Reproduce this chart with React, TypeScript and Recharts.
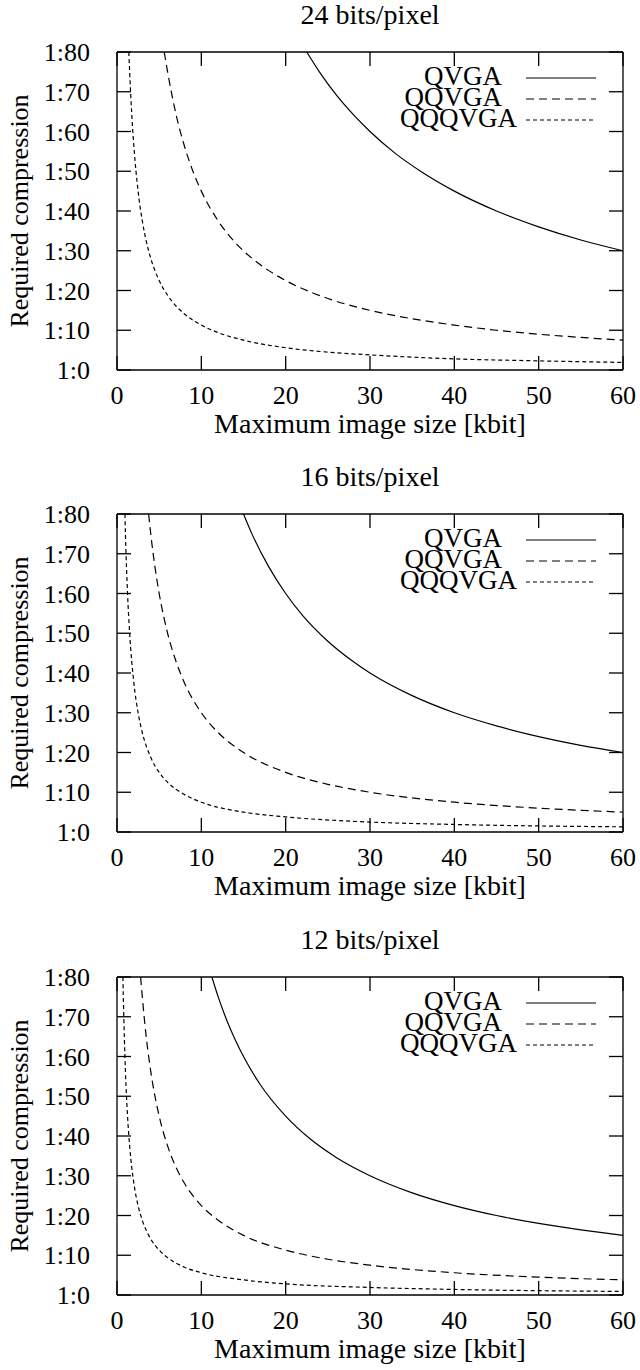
import { LineChart, Line, XAxis, YAxis, Legend } from 'recharts'

// values (compression ratio vs. max image size in kbit)
const xTicks = [0, 10, 20, 30, 40, 50, 60]
const yTicks = [0, 10, 20, 30, 40, 50, 60, 70, 80]
const seriesNames = ['QVGA', 'QQVGA', 'QQQVGA']
const panelTitles = ['24 bits/pixel', '16 bits/pixel', '12 bits/pixel']

const qvga24 = [
  { x: 22.5, y: 80 }, { x: 24, y: 75 }, { x: 26, y: 69.2 }, { x: 28, y: 64.3 }, { x: 30, y: 60 },
  { x: 33, y: 54.5 }, { x: 36, y: 50 }, { x: 40, y: 45 }, { x: 45, y: 40 }, { x: 50, y: 36 },
  { x: 55, y: 32.7 }, { x: 60, y: 30 },
]
const qqvga24 = [
  { x: 5.6, y: 80 }, { x: 6, y: 75 }, { x: 7, y: 64.3 }, { x: 8, y: 56.3 }, { x: 9, y: 50 },
  { x: 10, y: 45 }, { x: 12, y: 37.5 }, { x: 14, y: 32.1 }, { x: 16, y: 28.1 }, { x: 18, y: 25 },
  { x: 20, y: 22.5 }, { x: 25, y: 18 }, { x: 30, y: 15 }, { x: 35, y: 12.9 }, { x: 40, y: 11.3 },
  { x: 45, y: 10 }, { x: 50, y: 9 }, { x: 55, y: 8.2 }, { x: 60, y: 7.5 },
]
const qqqvga24 = [
  { x: 1.4, y: 80 }, { x: 1.5, y: 75 }, { x: 1.75, y: 64.3 }, { x: 2, y: 56.3 }, { x: 2.5, y: 45 },
  { x: 3, y: 37.5 }, { x: 3.5, y: 32.1 }, { x: 4, y: 28.1 }, { x: 5, y: 22.5 }, { x: 6, y: 18.8 },
  { x: 7, y: 16.1 }, { x: 8, y: 14.1 }, { x: 10, y: 11.3 }, { x: 12, y: 9.4 }, { x: 15, y: 7.5 },
  { x: 20, y: 5.6 }, { x: 25, y: 4.5 }, { x: 30, y: 3.8 }, { x: 40, y: 2.8 }, { x: 50, y: 2.3 },
  { x: 60, y: 1.9 },
]

const qvga16 = [
  { x: 15, y: 80 }, { x: 16, y: 75 }, { x: 18, y: 66.7 }, { x: 20, y: 60 }, { x: 22, y: 54.5 },
  { x: 25, y: 48 }, { x: 28, y: 42.9 }, { x: 30, y: 40 }, { x: 35, y: 34.3 }, { x: 40, y: 30 },
  { x: 45, y: 26.7 }, { x: 50, y: 24 }, { x: 55, y: 21.8 }, { x: 60, y: 20 },
]
const qqvga16 = [
  { x: 3.75, y: 80 }, { x: 4, y: 75 }, { x: 4.5, y: 66.7 }, { x: 5, y: 60 }, { x: 6, y: 50 },
  { x: 7, y: 42.9 }, { x: 8, y: 37.5 }, { x: 10, y: 30 }, { x: 12, y: 25 }, { x: 15, y: 20 },
  { x: 20, y: 15 }, { x: 25, y: 12 }, { x: 30, y: 10 }, { x: 40, y: 7.5 }, { x: 50, y: 6 },
  { x: 60, y: 5 },
]
const qqqvga16 = [
  { x: 0.94, y: 80 }, { x: 1, y: 75 }, { x: 1.25, y: 60 }, { x: 1.5, y: 50 }, { x: 2, y: 37.5 },
  { x: 2.5, y: 30 }, { x: 3, y: 25 }, { x: 4, y: 18.8 }, { x: 5, y: 15 }, { x: 6, y: 12.5 },
  { x: 8, y: 9.4 }, { x: 10, y: 7.5 }, { x: 15, y: 5 }, { x: 20, y: 3.8 }, { x: 30, y: 2.5 },
  { x: 40, y: 1.9 }, { x: 60, y: 1.3 },
]

const qvga12 = [
  { x: 11.25, y: 80 }, { x: 12, y: 75 }, { x: 13, y: 69.2 }, { x: 14, y: 64.3 }, { x: 15, y: 60 },
  { x: 17, y: 52.9 }, { x: 20, y: 45 }, { x: 23, y: 39.1 }, { x: 26, y: 34.6 }, { x: 30, y: 30 },
  { x: 35, y: 25.7 }, { x: 40, y: 22.5 }, { x: 45, y: 20 }, { x: 50, y: 18 }, { x: 55, y: 16.4 },
  { x: 60, y: 15 },
]
const qqvga12 = [
  { x: 2.8, y: 80 }, { x: 3, y: 75 }, { x: 3.5, y: 64.3 }, { x: 4, y: 56.3 }, { x: 5, y: 45 },
  { x: 6, y: 37.5 }, { x: 7, y: 32.1 }, { x: 8, y: 28.1 }, { x: 10, y: 22.5 }, { x: 12, y: 18.8 },
  { x: 15, y: 15 }, { x: 20, y: 11.3 }, { x: 25, y: 9 }, { x: 30, y: 7.5 }, { x: 40, y: 5.6 },
  { x: 50, y: 4.5 }, { x: 60, y: 3.8 },
]
const qqqvga12 = [
  { x: 0.7, y: 80 }, { x: 0.75, y: 75 }, { x: 1, y: 56.3 }, { x: 1.25, y: 45 }, { x: 1.5, y: 37.5 },
  { x: 2, y: 28.1 }, { x: 2.5, y: 22.5 }, { x: 3, y: 18.8 }, { x: 4, y: 14.1 }, { x: 5, y: 11.3 },
  { x: 6, y: 9.4 }, { x: 8, y: 7 }, { x: 10, y: 5.6 }, { x: 15, y: 3.8 }, { x: 20, y: 2.8 },
  { x: 30, y: 1.9 }, { x: 40, y: 1.4 }, { x: 60, y: 0.9 },
]

const panels = [
  { title: panelTitles[0], series: [qvga24, qqvga24, qqqvga24], top: 0 },
  { title: panelTitles[1], series: [qvga16, qqvga16, qqqvga16], top: 462 },
  { title: panelTitles[2], series: [qvga12, qqvga12, qqqvga12], top: 925 },
]

const FONT = '"Liberation Serif", "DejaVu Serif", serif'
const INK = '#000'
const dashes = ['', '8 5', '4 3']
const tickText = { fontSize: 26, fontFamily: FONT, fill: INK }
const hiddenText = { fontSize: 1, fill: 'none' }
const tickStroke = { stroke: INK, strokeWidth: 1.3 }
const axisStroke = { stroke: INK, strokeWidth: 1.3 }
const blank = () => ''

function YLabel({ viewBox }: any) {
  const cx = viewBox.x + 28
  const cy = viewBox.y + viewBox.height / 2
  return (
    <text
      x={cx}
      y={cy}
      transform={`rotate(-90 ${cx} ${cy})`}
      textAnchor="middle"
      fontSize={26}
      fontFamily={FONT}
      fill={INK}
    >
      Required compression
    </text>
  )
}

function KeyBox() {
  return (
    <div style={{ fontFamily: FONT, fontSize: 27, lineHeight: '21px', color: INK }}>
      {seriesNames.map((name, i) => (
        <div key={name} style={{ display: 'flex', alignItems: 'center', height: 21 }}>
          <span style={{ width: 102, textAlign: 'right', whiteSpace: 'nowrap' }}>{name}</span>
          <svg width={70} height={4} style={{ marginLeft: 24, marginTop: 3 }}>
            <line x1={0} x2={70} y1={2} y2={2} stroke={INK} strokeWidth={1.2} strokeDasharray={dashes[i]} />
          </svg>
        </div>
      ))}
    </div>
  )
}

function Panel({ title, series, top }: { title: string; series: { x: number; y: number }[][]; top: number }) {
  return (
    <div style={{ position: 'absolute', left: 0, top, width: 640, height: 445 }}>
      <div
        style={{
          position: 'absolute', left: 117, width: 506, top: 1, textAlign: 'center',
          fontFamily: FONT, fontSize: 28, lineHeight: '28px', color: INK, zIndex: 1,
        }}
      >
        {title}
      </div>
      <LineChart width={640} height={445} margin={{ top: 51, right: 16, bottom: 0, left: 0 }}>
        <XAxis
          dataKey="x"
          type="number"
          domain={[0, 60]}
          ticks={xTicks}
          interval={0}
          allowDataOverflow
          height={75}
          tickSize={-14}
          tickMargin={30}
          tick={tickText}
          tickLine={tickStroke}
          axisLine={axisStroke}
          label={{
            value: 'Maximum image size [kbit]', position: 'insideBottom', offset: 12,
            fontSize: 28, fontFamily: FONT, fill: INK,
          }}
        />
        <XAxis
          xAxisId="top"
          orientation="top"
          dataKey="x"
          type="number"
          domain={[0, 60]}
          ticks={xTicks}
          interval={0}
          allowDataOverflow
          height={1}
          tickSize={-14}
          tick={hiddenText}
          tickFormatter={blank}
          tickLine={tickStroke}
          axisLine={axisStroke}
        />
        <YAxis
          type="number"
          domain={[0, 80]}
          ticks={yTicks}
          interval={0}
          allowDataOverflow
          width={117}
          tickSize={-14}
          tickMargin={41}
          tick={tickText}
          tickFormatter={v => `1:${v}`}
          tickLine={tickStroke}
          axisLine={axisStroke}
          label={{ content: <YLabel /> }}
        />
        <YAxis
          yAxisId="right"
          orientation="right"
          type="number"
          domain={[0, 80]}
          ticks={yTicks}
          interval={0}
          allowDataOverflow
          width={1}
          tickSize={-14}
          tick={hiddenText}
          tickFormatter={blank}
          tickLine={tickStroke}
          axisLine={axisStroke}
        />
        <Legend
          layout="vertical"
          align="center"
          verticalAlign="middle"
          content={<KeyBox />}
          wrapperStyle={{ left: 400, top: 66, width: 200 }}
        />
        {series.map((pts, i) => (
          <Line
            key={seriesNames[i]}
            data={pts}
            dataKey="y"
            name={seriesNames[i]}
            type="monotone"
            stroke={INK}
            strokeWidth={1.2}
            strokeDasharray={dashes[i]}
            dot={false}
            activeDot={false}
            isAnimationActive={false}
          />
        ))}
      </LineChart>
    </div>
  )
}

export default function App() {
  return (
    <div style={{ position: 'absolute', left: 0, top: 0, width: 640, height: 1370, background: '#fff' }}>
      {panels.map(p => (
        <Panel key={p.title} title={p.title} series={p.series} top={p.top} />
      ))}
    </div>
  )
}
